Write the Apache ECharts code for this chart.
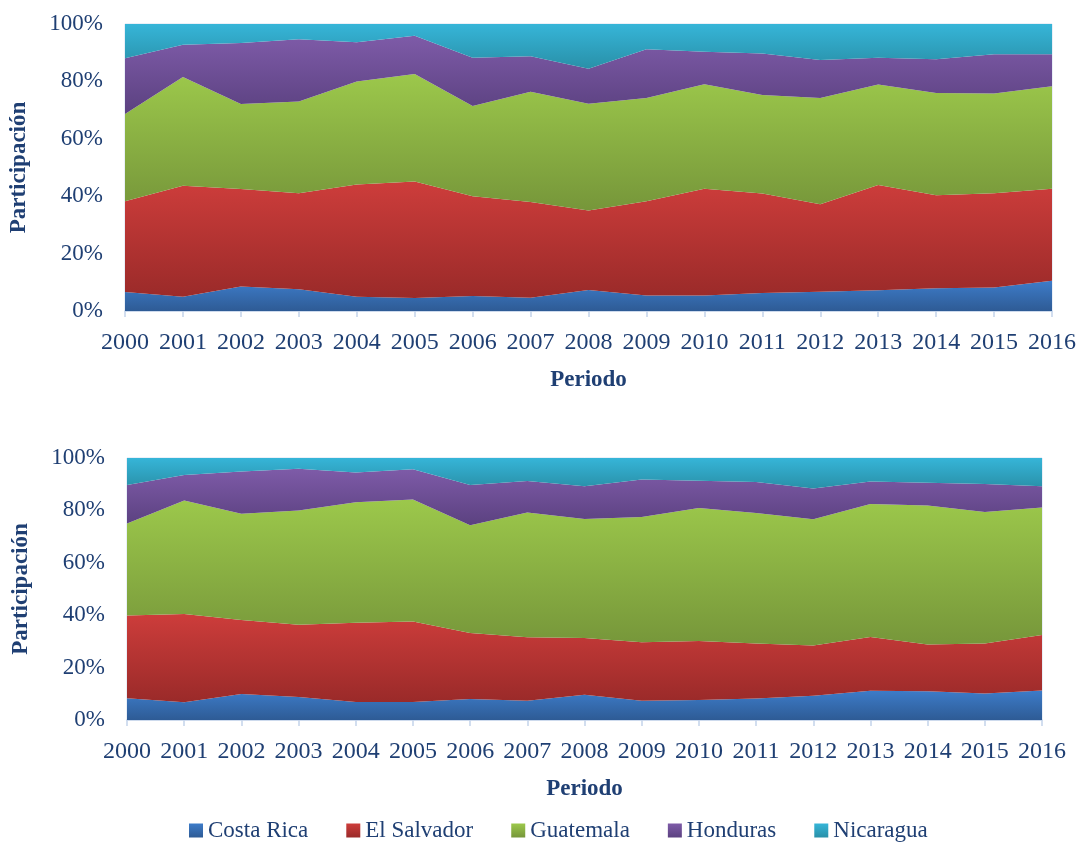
<!DOCTYPE html>
<html>
<head>
<meta charset="utf-8">
<script src="https://cdn.jsdelivr.net/npm/echarts@6/dist/echarts.min.js"></script>
<style>
  html, body { margin: 0; padding: 0; background: #fff; }
  #chart { width: 1080px; height: 843px; }
</style>
</head>
<body>
<div id="chart"></div>
<script>
// periodos
var years = ["2000", "2001", "2002", "2003", "2004", "2005", "2006", "2007", "2008",
  "2009", "2010", "2011", "2012", "2013", "2014", "2015", "2016"];
var countries = ["Costa Rica", "El Salvador", "Guatemala", "Honduras", "Nicaragua"];

// grafico superior (participacion %)
var topCostaRica = [6.6, 5.0, 8.5, 7.6, 5.0, 4.5, 5.2, 4.6, 7.3, 5.4, 5.4, 6.3, 6.7, 7.2, 7.9, 8.2, 10.5];
var topElSalvador = [31.6, 38.6, 34.0, 33.4, 39.1, 40.6, 34.8, 33.4, 27.7, 32.8, 37.2, 34.6, 30.5, 36.7, 32.4, 32.8, 32.1];
var topGuatemala = [30.4, 37.9, 29.6, 32.0, 35.9, 37.5, 31.4, 38.4, 37.2, 36.0, 36.4, 34.4, 37.0, 35.0, 35.7, 34.8, 35.7];
var topHonduras = [19.5, 11.3, 21.3, 21.7, 13.6, 13.3, 16.8, 12.4, 12.2, 17.0, 11.3, 14.4, 13.3, 9.3, 11.7, 13.7, 11.2];
var topNicaragua = [11.9, 7.2, 6.6, 5.3, 6.4, 4.1, 11.8, 11.2, 15.6, 8.8, 9.7, 10.3, 12.5, 11.8, 12.3, 10.5, 10.5];

// grafico inferior (participacion %)
var botCostaRica = [8.3, 6.8, 9.9, 8.8, 6.9, 6.9, 8.0, 7.3, 9.6, 7.3, 7.6, 8.2, 9.3, 11.2, 11.0, 10.1, 11.3];
var botElSalvador = [31.6, 33.7, 28.3, 27.6, 30.2, 30.7, 25.2, 24.3, 21.7, 22.4, 22.6, 21.0, 19.1, 20.5, 17.8, 19.1, 21.1];
var botGuatemala = [35.1, 43.3, 40.5, 43.6, 46.0, 46.6, 41.1, 47.6, 45.4, 47.8, 50.7, 49.8, 48.2, 50.7, 53.1, 50.2, 48.7];
var botHonduras = [14.7, 9.7, 16.1, 15.9, 11.4, 11.5, 15.4, 12.0, 12.5, 14.3, 10.4, 11.8, 11.8, 8.6, 8.7, 10.7, 8.1];
var botNicaragua = [10.3, 6.5, 5.2, 4.1, 5.5, 4.3, 10.3, 8.8, 10.8, 8.2, 8.7, 9.2, 11.6, 9.0, 9.4, 9.9, 10.8];

var yTicks = [0, 20, 40, 60, 80, 100];

var topData = [topCostaRica, topElSalvador, topGuatemala, topHonduras, topNicaragua];
var botData = [botCostaRica, botElSalvador, botGuatemala, botHonduras, botNicaragua];

// colores (arriba / abajo del degradado)
var colorTop = ["#3d7cc9", "#cd3d3b", "#9cc84b", "#7e5ba8", "#36b5d8"];
var colorBot = ["#2e5b95", "#9a2a29", "#76963a", "#5b4180", "#2990a8"];

var txt = "#1f3f73";
var font = "Liberation Serif";

function grad(i) {
  return new echarts.graphic.LinearGradient(0, 0, 0, 1, [
    { offset: 0, color: colorTop[i] },
    { offset: 1, color: colorBot[i] }
  ]);
}

function xAxis(idx) {
  return {
    type: "category",
    gridIndex: idx,
    data: years,
    boundaryGap: false,
    axisLine: { show: true, lineStyle: { color: "#c3d3ea", width: 1.5 } },
    axisTick: { show: true, length: 6, lineStyle: { color: "#c3d3ea", width: 1.5 } },
    axisLabel: { color: txt, fontFamily: font, fontSize: 24, margin: 20, interval: 0 },
    name: "Periodo",
    nameLocation: "middle",
    nameGap: 58,
    nameTextStyle: { color: txt, fontFamily: font, fontSize: 23, fontWeight: "bold" }
  };
}

function yAxis(idx) {
  return {
    type: "value",
    gridIndex: idx,
    min: 0,
    max: 100,
    interval: 20,
    axisLine: { show: false },
    axisTick: { show: false },
    splitLine: { show: false },
    axisLabel: {
      color: txt, fontFamily: font, fontSize: 23, margin: 22,
      formatter: function (v) { return yTicks.indexOf(v) >= 0 ? v + "%" : ""; }
    },
    name: "Participación",
    nameLocation: "middle",
    nameGap: 94,
    nameTextStyle: { color: txt, fontFamily: font, fontSize: 23, fontWeight: "bold" }
  };
}

var series = [];
[topData, botData].forEach(function (block, g) {
  block.forEach(function (vals, i) {
    series.push({
      name: countries[i],
      type: "line",
      xAxisIndex: g,
      yAxisIndex: g,
      stack: "total" + g,
      data: vals,
      symbol: "none",
      lineStyle: { width: 0 },
      areaStyle: { color: grad(i), opacity: 1 },
      itemStyle: { color: colorTop[i] },
      animation: false
    });
  });
});

var chart = echarts.init(document.getElementById("chart"));
chart.setOption({
  backgroundColor: "#fff",
  grid: [
    { left: 125, right: 28, top: 24, bottom: 532, show: true, borderColor: "#d4e0f0", borderWidth: 1 },
    { left: 127, right: 38, top: 458, bottom: 123, show: true, borderColor: "#d4e0f0", borderWidth: 1 }
  ],
  xAxis: [xAxis(0), xAxis(1)],
  yAxis: [yAxis(0), yAxis(1)],
  legend: {
    data: countries.map(function (c, i) { return { name: c, itemStyle: { color: grad(i) } }; }),
    left: 184,
    top: 814,
    icon: "rect",
    itemWidth: 14,
    itemHeight: 14,
    itemGap: 38,
    textStyle: { color: txt, fontFamily: font, fontSize: 23 }
  },
  series: series
});
</script>
</body>
</html>
